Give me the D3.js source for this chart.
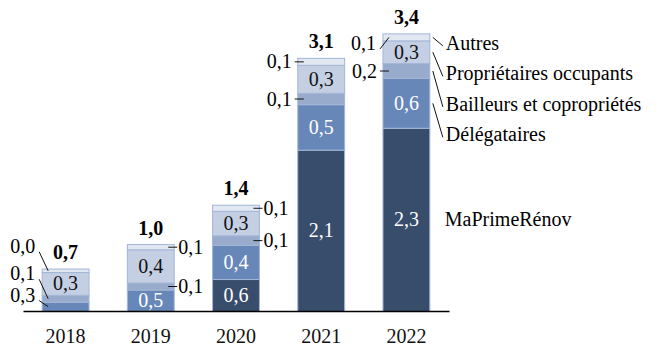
<!DOCTYPE html>
<html>
<head>
<meta charset="utf-8">
<script src="https://cdn.jsdelivr.net/npm/d3@7"></script>
<style>
  body { margin: 0; background: #fff; }
  svg { display: block; font-family: "Liberation Serif", serif; }
</style>
</head>
<body>
<div id="graph"></div>
<script>
// Data (billions of euros)
const years = ["2018", "2019", "2020", "2021", "2022"];
const seriesNames = ["MaPrimeRénov", "Délégataires", "Bailleurs et copropriétés", "Propriétaires occupants", "Autres"];
const maPrimeRenov = [0, 0, 0.58, 2.06, 2.31];
const delegataires = [0.32, 0.46, 0.39, 0.52, 0.57];
const bailleurs = [0.08, 0.08, 0.11, 0.13, 0.17];
const proprietaires = [0.26, 0.38, 0.28, 0.32, 0.26];
const autres = [0.04, 0.06, 0.07, 0.08, 0.08];
const seriesValues = [maPrimeRenov, delegataires, bailleurs, proprietaires, autres];

const colors = ["#384c6c", "#6887b9", "#99abcc", "#c4cfe3", "#e2e8f2"];
const textColors = ["#fff", "#fff", "#111", "#111", "#111"];

// How each value label is placed: "in" inside, "l"/"r" short tick left/right,
// ["d", dy] diagonal leader on the left, "" none
const labelPos = {
  "2018": ["", ["d", -5], ["d", -18.5], "in", ["d", -18]],
  "2019": ["", "in", "r", "in", "r"],
  "2020": ["in", "in", "r", "in", "r"],
  "2021": ["in", "in", "l", "in", "l"],
  "2022": ["in", "in", "l", "in", ["d", 12.6]]
};

// Chart constants
const w = 658;
const h = 351;
const baseY = 311;
const fontSize = 20;

const fmt = v => d3.format(".1f")(v).replace(".", ",");

const svg = d3.select("#graph").append("svg")
  .attr("width", w)
  .attr("height", h);

// table for the stack
const table = years.map((y, i) => {
  const row = { year: y };
  seriesNames.forEach((s, j) => row[s] = seriesValues[j][i]);
  return row;
});
const totals = years.map((y, i) => d3.sum(seriesValues, s => s[i]));

const stack = d3.stack().keys(seriesNames)(table);

const x = d3.scaleBand()
  .domain(years)
  .range([23, 449])
  .paddingInner(0.45)
  .paddingOuter(0.225);

// value axis does not start at zero in the original
const y = d3.scaleLinear()
  .domain([0.22, 3.4])
  .range([baseY, 33]);

svg.append("clipPath").attr("id", "plot-clip")
  .append("rect")
  .attr("x", 0).attr("y", 0)
  .attr("width", w).attr("height", baseY);

const bars = svg.append("g").attr("clip-path", "url(#plot-clip)");

stack.forEach((layer, j) => {
  bars.selectAll(null)
    .data(layer)
    .enter()
    .append("rect")
    .attr("x", d => x(d.data.year))
    .attr("y", d => y(d[1]))
    .attr("width", x.bandwidth())
    .attr("height", d => Math.max(0, y(d[0]) - y(d[1])))
    .style("fill", colors[j])
    .style("stroke", d => d[1] - d[0] > 0 ? "#a3b6d6" : "none")
    .style("stroke-width", 1);
});

// middle of the visible part of a segment
const segMid = d => (Math.min(y(d[0]), baseY) + y(d[1])) / 2;

const labels = svg.append("g").style("font-size", fontSize + "px");

stack.forEach((layer, j) => {
  layer.forEach((d, i) => {
    const yr = d.data.year;
    const pos = labelPos[yr][j];
    if (!pos) return;
    const v = seriesValues[j][i];
    const left = x(yr);
    const right = left + x.bandwidth();
    const mid = segMid(d);
    if (pos === "in") {
      labels.append("text")
        .attr("x", left + x.bandwidth() / 2)
        .attr("y", mid + 6.5)
        .attr("text-anchor", "middle")
        .style("fill", textColors[j])
        .text(fmt(v));
    } else if (pos === "r") {
      labels.append("line")
        .attr("x1", right - 6).attr("x2", right + 3)
        .attr("y1", mid).attr("y2", mid)
        .style("stroke", "#111");
      labels.append("text")
        .attr("x", right + 4)
        .attr("y", mid + 6.5)
        .text(fmt(v));
    } else if (pos === "l") {
      labels.append("line")
        .attr("x1", left - 3).attr("x2", left + 6)
        .attr("y1", mid).attr("y2", mid)
        .style("stroke", "#111");
      labels.append("text")
        .attr("x", left - 6)
        .attr("y", mid + 6.5)
        .attr("text-anchor", "end")
        .text(fmt(v));
    } else {
      const ty = mid + pos[1];
      labels.append("line")
        .attr("x1", left - 3).attr("y1", ty - 1)
        .attr("x2", left + 6).attr("y2", mid)
        .style("stroke", "#111");
      labels.append("text")
        .attr("x", left - 7)
        .attr("y", ty)
        .attr("text-anchor", "end")
        .text(fmt(v));
    }
  });
});

// totals above the bars
labels.selectAll(null)
  .data(years)
  .enter()
  .append("text")
  .attr("x", d => x(d) + x.bandwidth() / 2)
  .attr("y", (d, i) => y(totals[i]) - 10)
  .attr("text-anchor", "middle")
  .style("font-weight", "bold")
  .text((d, i) => fmt(totals[i]));

// series names next to the last bar
const last = stack.map(layer => layer[layer.length - 1]);
const lastRight = x(years[years.length - 1]) + x.bandwidth();
const legendTop = y(totals[totals.length - 1]) + 16;
last.forEach((d, j) => {
  const mid = segMid(d);
  if (j === 0) {
    labels.append("text")
      .attr("x", lastRight + 15)
      .attr("y", mid + 6)
      .text(seriesNames[j]);
    return;
  }
  const ty = legendTop + (4 - j) * 30.5;
  labels.append("line")
    .attr("x1", lastRight + 3).attr("y1", mid)
    .attr("x2", lastRight + 13).attr("y2", ty - 4)
    .style("stroke", "#111");
  labels.append("text")
    .attr("x", lastRight + 16)
    .attr("y", ty)
    .text(seriesNames[j]);
});

// x axis
const xAxis = d3.axisBottom(x).tickSize(0).tickPadding(18).tickSizeOuter(0);
const ax = svg.append("g")
  .attr("transform", "translate(0," + baseY + ")")
  .call(xAxis);
ax.select(".domain").style("stroke", "#000").style("stroke-width", 1.3);
ax.selectAll("text")
  .style("font-family", "Liberation Serif, serif")
  .style("font-size", fontSize + "px")
  .style("fill", "#111");
</script>
</body>
</html>
